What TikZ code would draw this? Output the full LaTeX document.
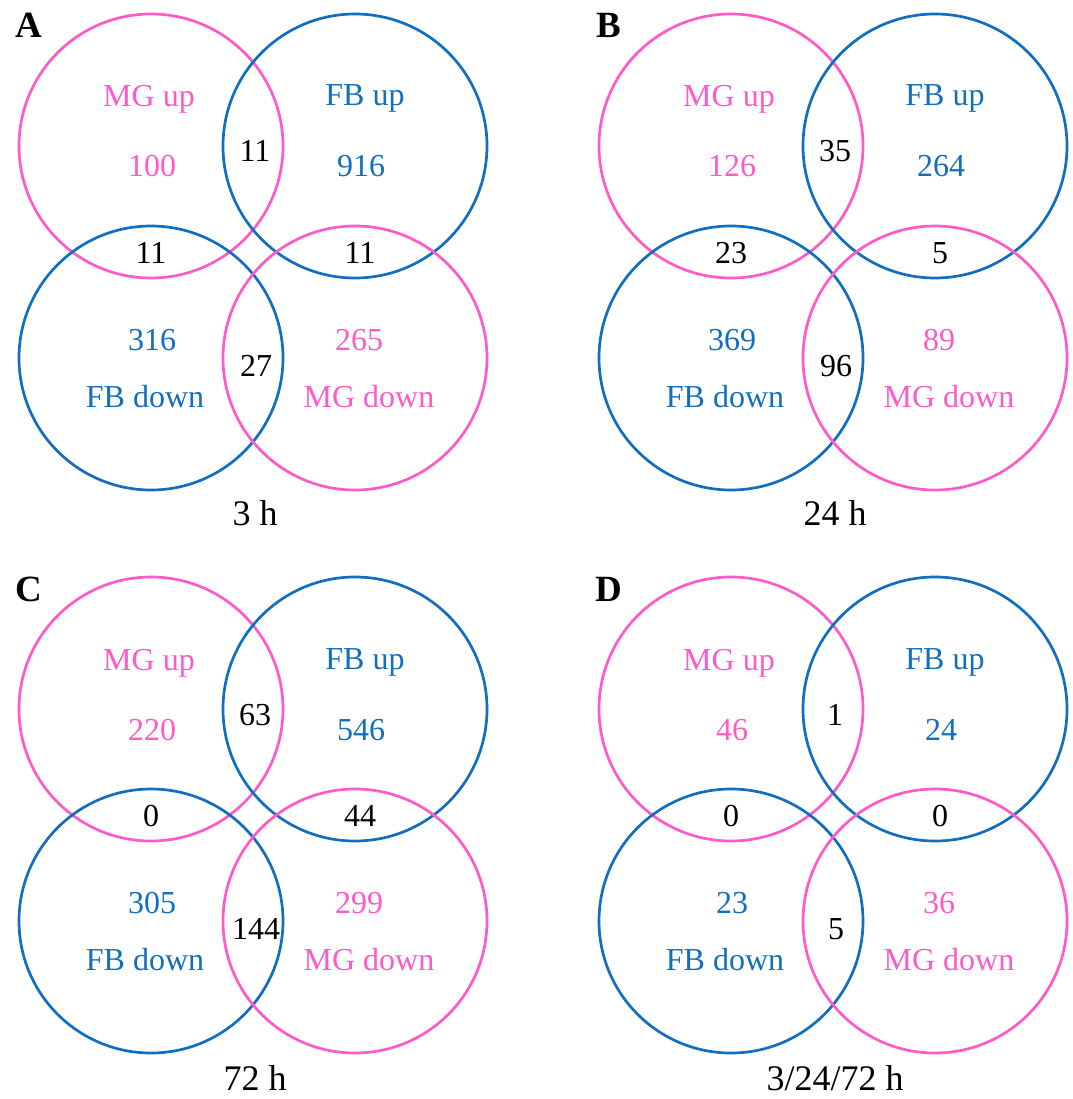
\documentclass[tikz,border=0pt]{standalone}
\usepackage{fontspec}
\setmainfont{Liberation Serif}
\usepackage{tikz}
\definecolor{mgpink}{RGB}{255,90,200}
\definecolor{fbblue}{RGB}{18,110,190}
\tikzstyle{mgring} = [circle, draw=mgpink, line width=2.7pt,
minimum size=264pt, inner sep=0pt]
\tikzstyle{fbring} = [circle, draw=fbblue, line width=2.7pt,
minimum size=264pt, inner sep=0pt]
\tikzstyle{mgtext} = [text=mgpink, anchor=base, inner sep=0pt,
font=\fontsize{32}{38}\selectfont]
\tikzstyle{fbtext} = [text=fbblue, anchor=base, inner sep=0pt,
font=\fontsize{32}{38}\selectfont]
\tikzstyle{both} = [text=black, anchor=base, inner sep=0pt,
font=\fontsize{32}{38}\selectfont]
\tikzstyle{timelabel} = [text=black, anchor=base, inner sep=0pt,
font=\fontsize{36}{42}\selectfont]
\tikzstyle{panel} = [text=black, anchor=base, inner sep=0pt,
font=\fontsize{37}{44}\selectfont\bfseries]
\begin{document}
\begin{tikzpicture}[x=1pt, y=-1pt]
\useasboundingbox (0,0) rectangle (1072,1099);

% A: 3 h
\begin{scope}
\node (mgupA) [mgring] at (151,146) {};
\node (fbupA) [fbring] at (355,146) {};
\node (fbdnA) [fbring] at (151,358) {};
\node (mgdnA) [mgring] at (355,358) {};
\node (letA) [panel] at (29,38) {A};
\node (tmgupA) [mgtext] at (149,107) {MG up};
\node (nmgupA) [mgtext] at (152,177) {100};
\node (tfbupA) [fbtext] at (365,106) {FB up};
\node (nfbupA) [fbtext] at (361,177) {916};
\node (nupupA) [both] at (255,162) {11};
\node (nmgfbA) [both] at (151,263) {11};
\node (nfbmgA) [both] at (360,263) {11};
\node (nfbdnA) [fbtext] at (152,350) {316};
\node (tfbdnA) [fbtext] at (145,407) {FB down};
\node (nmgdnA) [mgtext] at (359,350) {265};
\node (tmgdnA) [mgtext] at (369,407) {MG down};
\node (ndndnA) [both] at (256,376) {27};
\node (timeA) [timelabel] at (255,525) {3 h};
\end{scope}

% B: 24 h
\begin{scope}[shift={(580,0)}]
\node (mgupB) [mgring] at (151,146) {};
\node (fbupB) [fbring] at (355,146) {};
\node (fbdnB) [fbring] at (151,358) {};
\node (mgdnB) [mgring] at (355,358) {};
\node (letB) [panel] at (29,38) {B};
\node (tmgupB) [mgtext] at (149,107) {MG up};
\node (nmgupB) [mgtext] at (152,177) {126};
\node (tfbupB) [fbtext] at (365,106) {FB up};
\node (nfbupB) [fbtext] at (361,177) {264};
\node (nupupB) [both] at (255,162) {35};
\node (nmgfbB) [both] at (151,263) {23};
\node (nfbmgB) [both] at (360,263) {5};
\node (nfbdnB) [fbtext] at (152,350) {369};
\node (tfbdnB) [fbtext] at (145,407) {FB down};
\node (nmgdnB) [mgtext] at (359,350) {89};
\node (tmgdnB) [mgtext] at (369,407) {MG down};
\node (ndndnB) [both] at (256,376) {96};
\node (timeB) [timelabel] at (255,525) {24 h};
\end{scope}

% C: 72 h
\begin{scope}[shift={(0,563)}]
\node (mgupC) [mgring] at (151,146) {};
\node (fbupC) [fbring] at (355,146) {};
\node (fbdnC) [fbring] at (151,358) {};
\node (mgdnC) [mgring] at (355,358) {};
\node (letC) [panel] at (29,38) {C};
\node (tmgupC) [mgtext] at (149,107) {MG up};
\node (nmgupC) [mgtext] at (152,177) {220};
\node (tfbupC) [fbtext] at (365,106) {FB up};
\node (nfbupC) [fbtext] at (361,177) {546};
\node (nupupC) [both] at (255,162) {63};
\node (nmgfbC) [both] at (151,263) {0};
\node (nfbmgC) [both] at (360,263) {44};
\node (nfbdnC) [fbtext] at (152,350) {305};
\node (tfbdnC) [fbtext] at (145,407) {FB down};
\node (nmgdnC) [mgtext] at (359,350) {299};
\node (tmgdnC) [mgtext] at (369,407) {MG down};
\node (ndndnC) [both] at (256,376) {144};
\node (timeC) [timelabel] at (255,527) {72 h};
\end{scope}

% D: 3/24/72 h
\begin{scope}[shift={(580,563)}]
\node (mgupD) [mgring] at (151,146) {};
\node (fbupD) [fbring] at (355,146) {};
\node (fbdnD) [fbring] at (151,358) {};
\node (mgdnD) [mgring] at (355,358) {};
\node (letD) [panel] at (29,38) {D};
\node (tmgupD) [mgtext] at (149,107) {MG up};
\node (nmgupD) [mgtext] at (152,177) {46};
\node (tfbupD) [fbtext] at (365,106) {FB up};
\node (nfbupD) [fbtext] at (361,177) {24};
\node (nupupD) [both] at (255,162) {1};
\node (nmgfbD) [both] at (151,263) {0};
\node (nfbmgD) [both] at (360,263) {0};
\node (nfbdnD) [fbtext] at (152,350) {23};
\node (tfbdnD) [fbtext] at (145,407) {FB down};
\node (nmgdnD) [mgtext] at (359,350) {36};
\node (tmgdnD) [mgtext] at (369,407) {MG down};
\node (ndndnD) [both] at (256,376) {5};
\node (timeD) [timelabel] at (255,527) {3/24/72 h};
\end{scope}

\end{tikzpicture}
\end{document}
